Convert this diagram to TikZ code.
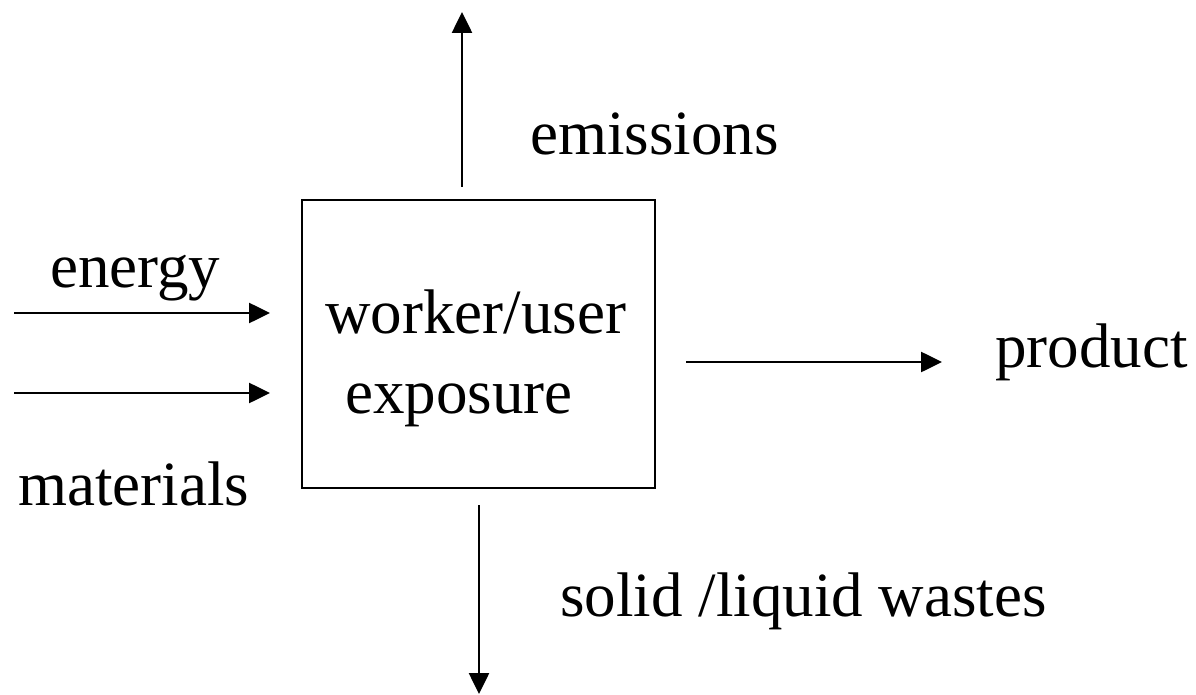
\documentclass[tikz,border=0pt]{standalone}
\usepackage{fontspec}
\setmainfont{Liberation Serif}
\usetikzlibrary{arrows.meta}
\begin{document}
\begin{tikzpicture}[x=1pt,y=-1pt,
  lbl/.style={anchor=base west,inner sep=0pt,font=\fontsize{63}{70}\selectfont},
  flow/.style={line width=2.6pt,-{Triangle[length=21pt,width=20pt]}},
  boxst/.style={draw,line width=2pt,minimum width=353pt,minimum height=288pt,inner sep=0pt}]
\useasboundingbox (0,0) rectangle (1196,695);
\node[boxst] (box) at (478.5,344) {};
\node[lbl] (worker) at (325,333) {worker/user};
\node[lbl] (expo) at (345,413) {exposure};
\node[lbl] (emis) at (530,155) {emissions};
\node[lbl] (energy) at (50,287) {energy};
\node[lbl] (mat) at (18,505) {materials};
\node[lbl] (prod) at (995,367) {product};
\node[lbl] (waste) at (560,616) {solid /liquid wastes};
\coordinate (upS) at (462,187);
\coordinate (upE) at (462,12);
\coordinate (e1S) at (14,313);
\coordinate (e1E) at (270,313);
\coordinate (e2S) at (14,393);
\coordinate (e2E) at (270,393);
\coordinate (pS) at (686,362);
\coordinate (pE) at (942,362);
\coordinate (dS) at (479,505);
\coordinate (dE) at (479,694);
\draw[flow] (upS) -- (upE);
\draw[flow] (e1S) -- (e1E);
\draw[flow] (e2S) -- (e2E);
\draw[flow] (pS) -- (pE);
\draw[flow] (dS) -- (dE);
\end{tikzpicture}
\end{document}
